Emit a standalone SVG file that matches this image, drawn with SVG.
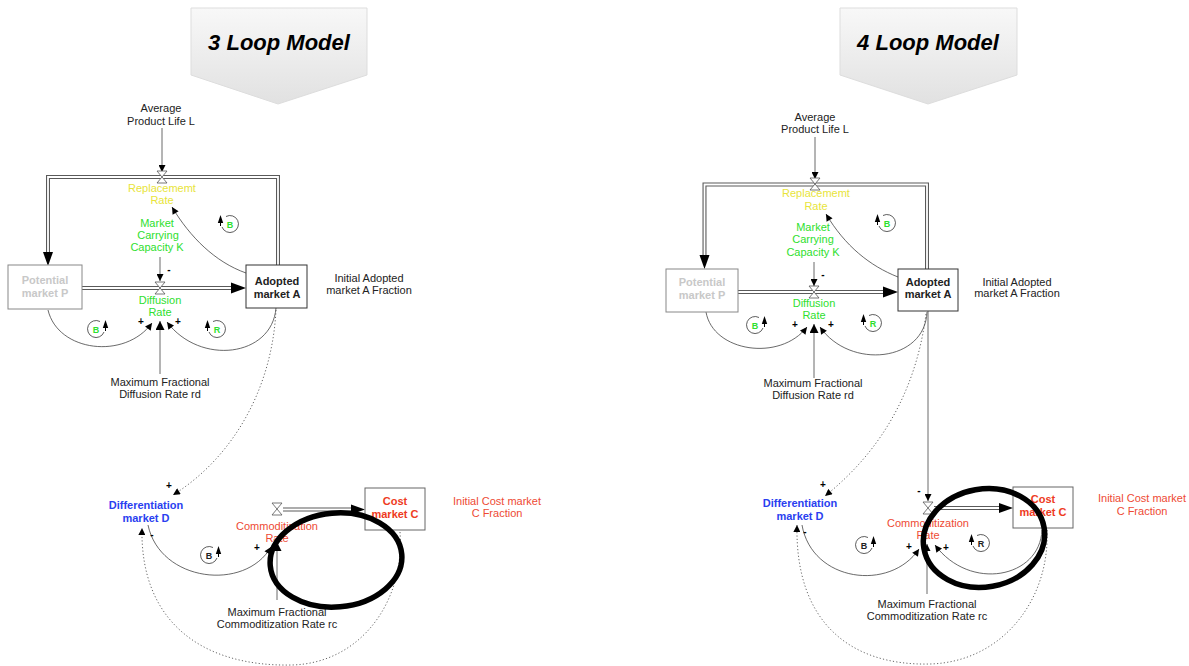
<svg xmlns="http://www.w3.org/2000/svg" width="1189" height="666" viewBox="0 0 1189 666">
  <defs>
    <linearGradient id="bannerFill" x1="0" y1="0" x2="0" y2="1">
      <stop offset="0" stop-color="#f8f8f8"/>
      <stop offset="1" stop-color="#e1e1e1"/>
    </linearGradient>
    <marker id="ah" viewBox="0 0 10 10" refX="10" refY="5" markerUnits="userSpaceOnUse" markerWidth="9" markerHeight="7" orient="auto">
      <path d="M0,0 L10,5 L0,10 Z" fill="#000"/>
    </marker>
    <marker id="ahBig" viewBox="0 0 10 10" refX="10" refY="5" markerUnits="userSpaceOnUse" markerWidth="11" markerHeight="9" orient="auto">
      <path d="M0,0 L10,5 L0,10 Z" fill="#000"/>
    </marker>
    <!-- loop symbol, arrow on the right side pointing up -->
    <g id="loopR">
      <path d="M8,3 A8.5 8.5 0 1 1 4,-7.5" fill="none" stroke="#333" stroke-width="0.8"/>
      <path d="M9.5,-1 L9.5,2" stroke="#000" stroke-width="1"/>
      <path d="M9.5,-9 L6.8,-1 L12.2,-1 Z" fill="#000"/>
    </g>
    <!-- hourglass valve on a flow pipe -->
    <path id="valve" d="M-5,-6 L5,-6 L-5,6 L5,6 Z" fill="#fff" stroke="#555" stroke-width="0.8"/>
  </defs>
  <style>
    text { font-family: "Liberation Sans", Arial, sans-serif; font-size: 11px; text-anchor: middle; }
    .blk { fill: #222; }
    .bold { font-weight: bold; }
    .green { fill: #2ee02e; }
    .yellow { fill: #e8e43a; }
    .red { fill: #ee4a34; }
    .redB { fill: #ee3a22; font-weight: bold; }
    .blue { fill: #2a3ff0; font-weight: bold; }
    .grayT { fill: #c8c8c8; font-weight: bold; }
    .title { font-size: 22px; font-weight: bold; font-style: italic; fill: #000; }
    .link { fill: none; stroke: #444; stroke-width: 0.8; }
    .dot { fill: none; stroke: #555; stroke-width: 0.9; stroke-dasharray: 1.2 2.2; }
    .pipeO { fill: none; stroke: #5a5a5a; stroke-width: 4; }
    .pipeI { fill: none; stroke: #fff; stroke-width: 1.8; }
    .stock { fill: #fff; stroke-width: 1; }
    .sign { font-size: 10px; font-weight: bold; fill: #000; }
    .loopL { font-size: 9px; font-weight: bold; }
    .ring { fill: none; stroke: #000; stroke-width: 5.5; }
  </style>

  <!-- ===================== 3 loop model ===================== -->
  <g id="banner-3">
    <path d="M191,8 L367,8 L367,75 L278,104 L191,75 Z" fill="url(#bannerFill)" stroke="#dddddd" stroke-width="1"/>
    <text x="279" y="50" class="title">3 Loop Model</text>
  </g>

  <g id="connectors-3">
    <!-- flow pipes -->
    <path class="pipeO" d="M278,265 L278,177 L48,177 L48,254"/>
    <path class="pipeI" d="M278,265 L278,177 L48,177 L48,254"/>
    <path d="M48,266 L43,252 L53,252 Z" fill="#000"/>
    <path class="pipeO" d="M82,288 L233,288"/>
    <path class="pipeI" d="M82,288 L233,288"/>
    <path d="M246,288 L231,282.5 L231,293.5 Z" fill="#000"/>
    <path class="pipeO" d="M283,509.5 L353,509.5"/>
    <path class="pipeI" d="M283,509.5 L353,509.5"/>
    <path d="M365,509.5 L351,504.5 L351,514.5 Z" fill="#000"/>
    <!-- information links -->
    <path class="link" d="M162,128 L162,172" marker-end="url(#ah)"/>
    <path class="link" d="M246,273 C215,262 190,237 172,207" marker-end="url(#ah)"/>
    <path class="link" d="M160,257 L160,281" marker-end="url(#ah)"/>
    <path class="link" d="M48,310 C58,352 125,360 152,323" marker-end="url(#ah)"/>
    <path class="link" d="M160,374 L160,321" marker-end="url(#ahBig)"/>
    <path class="link" d="M276,308 C272,357 200,366 167,322" marker-end="url(#ah)"/>
    <path class="dot" d="M276,310 C272,390 232,458 173,495" marker-end="url(#ah)"/>
    <path class="link" d="M148,525 C160,582 245,592 271,547" marker-end="url(#ah)"/>
    <path class="link" d="M277,600 L277,542" marker-end="url(#ahBig)"/>
    <path class="dot" d="M400,532 C405,600 362,663 292,665 C200,667 140,620 142,528" marker-end="url(#ah)"/>
    <!-- polarity signs -->
    <text x="169" y="273" class="sign">-</text>
    <text x="141" y="325" class="sign">+</text>
    <text x="178" y="325" class="sign">+</text>
    <text x="169" y="489" class="sign">+</text>
    <text x="152" y="538" class="sign">-</text>
    <text x="257" y="551" class="sign">+</text>
  </g>

  <g id="valve-replacement-3"><use href="#valve" x="162" y="177"/></g>
  <g id="valve-diffusion-3"><use href="#valve" x="160" y="288"/></g>
  <g id="valve-commod-3"><use href="#valve" x="277" y="509"/></g>

  <g id="avg-life-3">
    <text x="161" y="112" class="blk">Average</text>
    <text x="161" y="125" class="blk">Product Life L</text>
  </g>
  <g id="replacement-rate-3">
    <text x="162" y="192" class="yellow">Replacememt</text>
    <text x="162" y="204" class="yellow">Rate</text>
  </g>
  <g id="carrying-capacity-3">
    <text x="157" y="227" class="green">Market</text>
    <text x="158" y="239" class="green">Carrying</text>
    <text x="157" y="251" class="green">Capacity K</text>
  </g>
  <g id="diffusion-rate-3">
    <text x="160" y="304" class="green">Diffusion</text>
    <text x="160" y="316" class="green">Rate</text>
  </g>
  <g id="potential-market-3">
    <rect x="8" y="265" width="74" height="44" class="stock" stroke="#888"/>
    <text x="45" y="284" class="grayT">Potential</text>
    <text x="45" y="297" class="grayT">market P</text>
  </g>
  <g id="adopted-market-3">
    <rect x="246" y="265" width="61" height="43" class="stock" stroke="#333"/>
    <text x="277" y="285" class="blk bold">Adopted</text>
    <text x="277" y="298" class="blk bold">market A</text>
  </g>
  <g id="initial-adopted-3">
    <text x="369" y="282" class="blk">Initial Adopted</text>
    <text x="369" y="294" class="blk">market A Fraction</text>
  </g>
  <g id="max-diffusion-3">
    <text x="160" y="386" class="blk">Maximum Fractional</text>
    <text x="160" y="398" class="blk">Diffusion Rate rd</text>
  </g>
  <g id="differentiation-3">
    <text x="146" y="509" class="blue">Differentiation</text>
    <text x="146" y="522" class="blue">market D</text>
  </g>
  <g id="commod-rate-3">
    <text x="277" y="530" class="red">Commoditization</text>
    <text x="277" y="542" class="red">Rate</text>
  </g>
  <g id="cost-market-3">
    <rect x="365" y="488" width="60" height="42" class="stock" stroke="#666"/>
    <text x="395" y="505" class="redB">Cost</text>
    <text x="395" y="518" class="redB">market C</text>
  </g>
  <g id="initial-cost-3">
    <text x="497" y="505" class="red">Initial Cost market</text>
    <text x="497" y="517" class="red">C Fraction</text>
  </g>
  <g id="max-commod-3">
    <text x="277" y="616" class="blk">Maximum Fractional</text>
    <text x="277" y="628" class="blk">Commoditization Rate rc</text>
  </g>

  <g id="loops-3">
    <use href="#loopR" transform="translate(230,224) scale(-1,1)"/>
    <text x="230" y="228" class="loopL green">B</text>
    <use href="#loopR" transform="translate(96,329)"/>
    <text x="96" y="333" class="loopL green">B</text>
    <use href="#loopR" transform="translate(217,329) scale(-1,1)"/>
    <text x="217" y="333" class="loopL green">R</text>
    <use href="#loopR" transform="translate(209,555)"/>
    <text x="209" y="559" class="loopL blk">B</text>
  </g>

  <g id="highlight-3">
    <ellipse class="ring" cx="336" cy="560" rx="66" ry="47" transform="rotate(-5 336 560)"/>
  </g>

  <!-- ===================== 4 loop model ===================== -->
  <g id="banner-4">
    <path d="M840,8 L1017,8 L1017,75 L928,104 L840,75 Z" fill="url(#bannerFill)" stroke="#dddddd" stroke-width="1"/>
    <text x="928" y="50" class="title">4 Loop Model</text>
  </g>

  <g id="connectors-4">
    <path class="pipeO" d="M927,269 L927,184.5 L704.5,184.5 L704.5,257"/>
    <path class="pipeI" d="M927,269 L927,184.5 L704.5,184.5 L704.5,257"/>
    <path d="M704.5,269 L699.5,255 L709.5,255 Z" fill="#000"/>
    <path class="pipeO" d="M738,292 L885,292"/>
    <path class="pipeI" d="M738,292 L885,292"/>
    <path d="M898,292 L883,286.5 L883,297.5 Z" fill="#000"/>
    <path class="pipeO" d="M934,508 L1001,508"/>
    <path class="pipeI" d="M934,508 L1001,508"/>
    <path d="M1013,508 L999,503 L999,513 Z" fill="#000"/>
    <path class="link" d="M815,137 L815,179" marker-end="url(#ah)"/>
    <path class="link" d="M898,277 C870,266 845,246 826,214" marker-end="url(#ah)"/>
    <path class="link" d="M814,262 L814,286" marker-end="url(#ah)"/>
    <path class="link" d="M706,312 C713,352 780,362 807,327" marker-end="url(#ah)"/>
    <path class="link" d="M814,378 L814,324" marker-end="url(#ahBig)"/>
    <path class="link" d="M927,312 C925,362 850,370 820,327" marker-end="url(#ah)"/>
    <path class="link" d="M928,311 L928,501" marker-end="url(#ah)"/>
    <path class="dot" d="M926,314 C916,392 880,452 825,496" marker-end="url(#ah)"/>
    <path class="link" d="M802,525 C812,582 890,592 919,549" marker-end="url(#ah)"/>
    <path class="link" d="M927,594 L927,544" marker-end="url(#ah)"/>
    <path class="link" d="M1042,530 C1040,578 970,592 935,545" marker-end="url(#ah)"/>
    <path class="dot" d="M1047,530 C1050,600 1002,662 930,664 C850,666 795,622 797,525" marker-end="url(#ah)"/>
    <text x="823" y="278" class="sign">-</text>
    <text x="795" y="328" class="sign">+</text>
    <text x="831" y="328" class="sign">+</text>
    <text x="919" y="494" class="sign">-</text>
    <text x="823" y="488" class="sign">+</text>
    <text x="805" y="535" class="sign">-</text>
    <text x="909" y="550" class="sign">+</text>
    <text x="946" y="551" class="sign">+</text>
  </g>

  <g id="valve-replacement-4"><use href="#valve" x="815" y="184"/></g>
  <g id="valve-diffusion-4"><use href="#valve" x="814" y="292"/></g>
  <g id="valve-commod-4"><use href="#valve" x="928" y="508"/></g>

  <g id="avg-life-4">
    <text x="815" y="121" class="blk">Average</text>
    <text x="815" y="133" class="blk">Product Life L</text>
  </g>
  <g id="replacement-rate-4">
    <text x="816" y="197" class="yellow">Replacememt</text>
    <text x="816" y="210" class="yellow">Rate</text>
  </g>
  <g id="carrying-capacity-4">
    <text x="813" y="231" class="green">Market</text>
    <text x="813" y="243" class="green">Carrying</text>
    <text x="813" y="256" class="green">Capacity K</text>
  </g>
  <g id="diffusion-rate-4">
    <text x="814" y="307" class="green">Diffusion</text>
    <text x="814" y="319" class="green">Rate</text>
  </g>
  <g id="potential-market-4">
    <rect x="666" y="269" width="72" height="43" class="stock" stroke="#888"/>
    <text x="702" y="286" class="grayT">Potential</text>
    <text x="702" y="299" class="grayT">market P</text>
  </g>
  <g id="adopted-market-4">
    <rect x="898" y="269" width="60" height="42" class="stock" stroke="#333"/>
    <text x="928" y="286" class="blk bold">Adopted</text>
    <text x="928" y="298" class="blk bold">market A</text>
  </g>
  <g id="initial-adopted-4">
    <text x="1017" y="286" class="blk">Initial Adopted</text>
    <text x="1017" y="297" class="blk">market A Fraction</text>
  </g>
  <g id="max-diffusion-4">
    <text x="813" y="387" class="blk">Maximum Fractional</text>
    <text x="813" y="399" class="blk">Diffusion Rate rd</text>
  </g>
  <g id="differentiation-4">
    <text x="800" y="507" class="blue">Differentiation</text>
    <text x="800" y="520" class="blue">market D</text>
  </g>
  <g id="commod-rate-4">
    <text x="928" y="527" class="red">Commoditization</text>
    <text x="928" y="539" class="red">Rate</text>
  </g>
  <g id="cost-market-4">
    <rect x="1013" y="487" width="60" height="41" class="stock" stroke="#666"/>
    <text x="1043" y="503" class="redB">Cost</text>
    <text x="1043" y="516" class="redB">market C</text>
  </g>
  <g id="initial-cost-4">
    <text x="1142" y="502" class="red">Initial Cost market</text>
    <text x="1142" y="515" class="red">C Fraction</text>
  </g>
  <g id="max-commod-4">
    <text x="927" y="608" class="blk">Maximum Fractional</text>
    <text x="927" y="620" class="blk">Commoditization Rate rc</text>
  </g>

  <g id="loops-4">
    <use href="#loopR" transform="translate(887,223) scale(-1,1)"/>
    <text x="887" y="227" class="loopL green">B</text>
    <use href="#loopR" transform="translate(755,325)"/>
    <text x="755" y="329" class="loopL green">B</text>
    <use href="#loopR" transform="translate(873,323) scale(-1,1)"/>
    <text x="873" y="327" class="loopL green">R</text>
    <use href="#loopR" transform="translate(864,545)"/>
    <text x="864" y="549" class="loopL blk">B</text>
    <use href="#loopR" transform="translate(981,543) scale(-1,1)"/>
    <text x="981" y="547" class="loopL blk">R</text>
  </g>

  <g id="highlight-4">
    <ellipse class="ring" cx="984" cy="538" rx="61" ry="49" transform="rotate(-10 984 538)"/>
  </g>
</svg>
